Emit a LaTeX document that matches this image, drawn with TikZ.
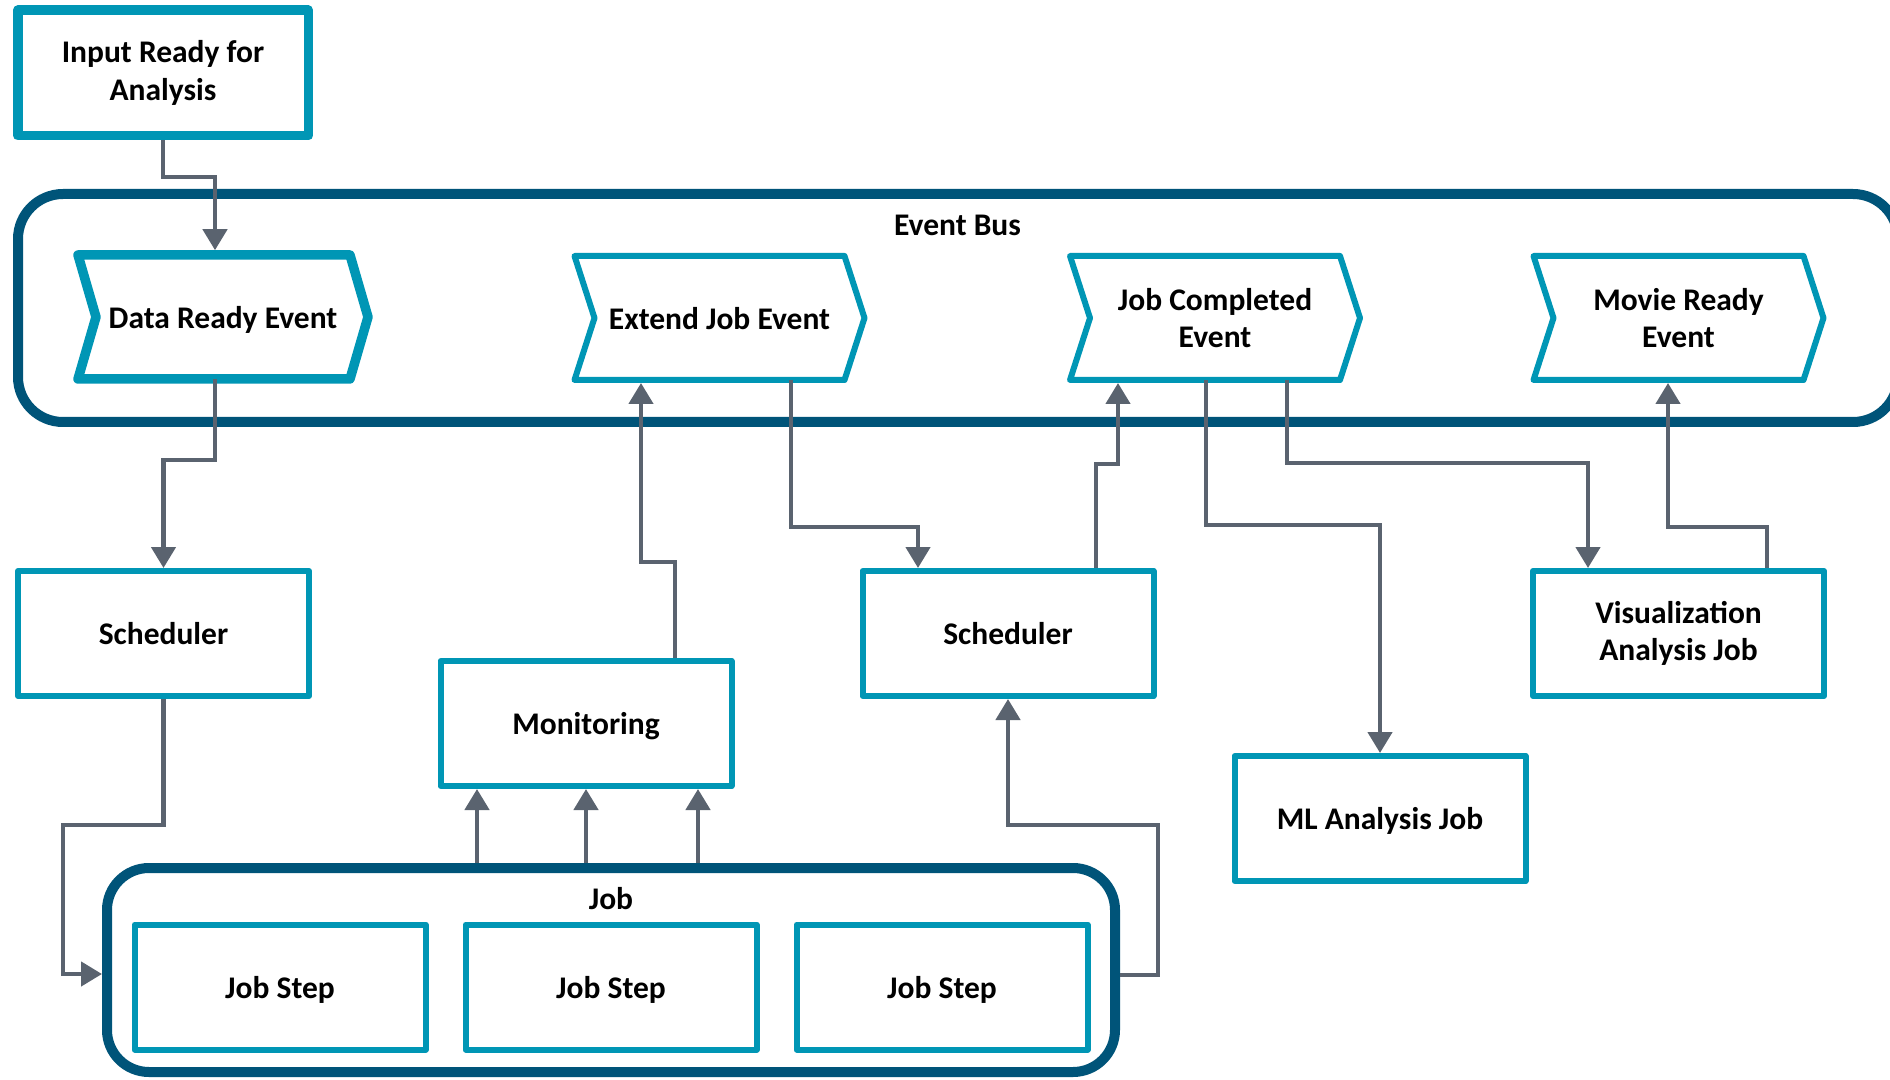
\documentclass[tikz,border=0pt]{standalone}
\usepackage{fontspec}
\setmainfont{Carlito}
\usetikzlibrary{arrows.meta}

\definecolor{boxteal}{RGB}{0,150,181}
\definecolor{busblue}{RGB}{0,84,121}
\definecolor{linkgray}{RGB}{90,99,111}
\newcommand\boxfont{\fontsize{15.75}{18.9}\selectfont\bfseries}

\begin{document}
\begin{tikzpicture}[x=0.5pt,y=-0.5pt,
  box/.style={draw=boxteal, line width=3pt, line join=round, fill=white,
    minimum width=145.5pt, minimum height=62.5pt, inner sep=0pt,
    align=center, font=\boxfont},
  thickbox/.style={box, line width=4.75pt},
  evtext/.style={minimum width=145pt, minimum height=62pt, inner sep=0pt,
    outer sep=0pt, align=center, font=\boxfont},
  oneline/.style={text depth=0pt},
  evline/.style={draw=boxteal, line width=3pt, line join=round},
  group/.style={draw=busblue, line width=5pt, inner sep=0pt},
  grouplabel/.style={font=\boxfont, inner sep=0pt},
  conn/.style={draw=linkgray, line width=2.25pt,
    -{Triangle[length=10.5pt,width=12pt]}},
]
\useasboundingbox (0,0) rectangle (1890,1080);
\fill[white] (0,0) rectangle (1890,1080);

% containers
\node[group, rounded corners=22.5pt, minimum width=940pt, minimum height=114pt] (bus) at (958,308) {};
\node[grouplabel] (buslabel) at (957.5,225) {Event Bus};
\node[group, rounded corners=21pt, minimum width=504pt, minimum height=102pt] (job) at (611,970) {};
\node[grouplabel] (joblabel) at (611,899) {Job};

% source box
\node[thickbox, minimum width=145.25pt, minimum height=62.75pt] (inrdy) at (163,73) {Input Ready for\\Analysis};

% events on the bus
\node[evtext, oneline] (dre) at (223,317) {Data Ready Event};
\node[evtext, oneline] (eje) at (719.5,318) {Extend Job Event};
\node[evtext] (jce) at (1215,318) {Job Completed\\Event};
\node[evtext] (mre) at (1678.5,318) {Movie Ready\\Event};

\draw[evline, line width=4.75pt] (dre.north west) -- ([xshift=-9pt]dre.north east) -- (dre.east)
  -- ([xshift=-9pt]dre.south east) -- (dre.south west) -- ([xshift=9pt]dre.west) -- cycle;
\foreach \n in {eje,jce,mre}
  \draw[evline] (\n.north west) -- ([xshift=-10pt]\n.north east) -- (\n.east)
    -- ([xshift=-10pt]\n.south east) -- (\n.south west) -- ([xshift=10pt]\n.west) -- cycle;

% services and jobs
\node[box, oneline] (sch1) at (163.5,633.5) {Scheduler};
\node[box, oneline] (mon) at (586,723.5) {Monitoring};
\node[box, oneline] (sch2) at (1008,633.5) {Scheduler};
\node[box] (viz) at (1678.5,633.5) {Visualization\\Analysis Job};
\node[box, oneline] (ml) at (1380,818.5) {ML Analysis Job};
\node[box, oneline] (step1) at (280,987) {Job Step};
\node[box, oneline] (step2) at (611,987) {Job Step};
\node[box, oneline] (step3) at (942,987) {Job Step};

% connectors
\draw[conn, shorten >=2.4pt] (inrdy.south) |- (215,177) -- (dre.north -| 215,0);
\draw[conn] (dre.south -| 215,0) |- (163.5,460) -- (sch1.north);
\draw[conn] (sch1.south) |- (63,825) |- (job.west |- 0,974);
\foreach \x in {477,586,698}
  \draw[conn] (job.north -| \x,0) -- (mon.south -| \x,0);
\draw[conn, shorten >=1.5pt] (mon.north -| 675,0) |- (641,562) -- (eje.south -| 641,0);
\draw[conn] (eje.south -| 791,0) |- (918,527) -- (sch2.north -| 918,0);
\draw[conn, shorten >=1.5pt] (sch2.north -| 1096,0) |- (1118,464) -- (jce.south -| 1118,0);
\draw[conn] (jce.south -| 1206,0) |- (1380,525) -- (ml.north);
\draw[conn] (jce.south -| 1287,0) |- (1588,463) -- (viz.north -| 1588,0);
\draw[conn, shorten >=1.5pt] (viz.north -| 1767,0) |- (1668,527) -- (mre.south -| 1668,0);
\draw[conn] (job.east |- 0,975) -| (1158,825) -| (sch2.south);
\end{tikzpicture}
\end{document}
